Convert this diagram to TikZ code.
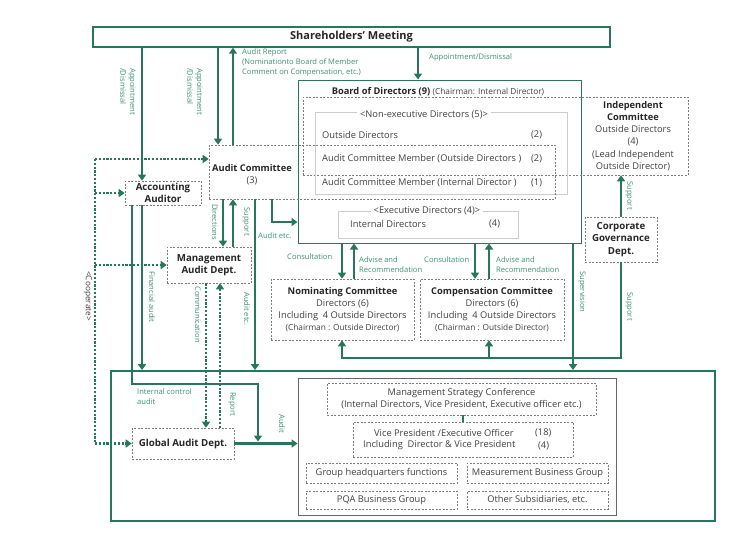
\documentclass[tikz,border=0pt]{standalone}
\usepackage{fontspec}
\setmainfont{Open Sans}
\usetikzlibrary{arrows.meta}
\definecolor{mgreen}{RGB}{40,118,92}
\definecolor{lgreen}{RGB}{62,146,116}
\definecolor{dtext}{RGB}{64,64,64}
\definecolor{dgray}{RGB}{125,125,125}
\begin{document}
\begin{tikzpicture}[x=1pt,y=-1pt,
    every node/.style={font=\fontsize{9.3}{12}\selectfont, text=dtext, inner sep=0pt},
    dbox/.style={draw=dgray, dash pattern=on 2pt off 1.5pt, line width=0.6pt},
    gbox/.style={draw=gray!40, line width=0.7pt},
    ln/.style={draw=mgreen, line width=2.3pt},
    arr/.style={ln, -{Triangle[length=6pt,width=8pt]}},
    dotarr/.style={arr, dash pattern=on 2.2pt off 1.6pt},
    dotln/.style={ln, dash pattern=on 2.2pt off 1.6pt},
    lbl/.style={font=\fontsize{7.6}{9.8}\selectfont, text=lgreen, align=left},
    vlbl/.style={lbl, rotate=-90, anchor=north west},
    hd/.style={font=\fontsize{9.7}{12.5}\selectfont\bfseries, text=black!85, align=center}]
    \fill[white] (0,0) rectangle (730,547);
    \useasboundingbox (0,0) rectangle (730,547);
    \coordinate (xCoop) at (95,0);
    \coordinate (xIC) at (132,0);
    \coordinate (xAA) at (142,0);
    \coordinate (xCom) at (206,0);
    \coordinate (xACd) at (218,0);
    \coordinate (xRep) at (220,0);
    \coordinate (xDir) at (223,0);
    \coordinate (xACu) at (233,0);
    \coordinate (xAEa) at (255,0);
    \coordinate (xDrop) at (258,0);
    \coordinate (xAEb) at (272,0);
    \coordinate (xNa) at (342,0);
    \coordinate (xNb) at (354,0);
    \coordinate (xBoD) at (418,0);
    \coordinate (xCa) at (475,0);
    \coordinate (xCb) at (489,0);
    \coordinate (xSpv) at (573,0);
    \coordinate (yCoop) at (0,159);
    \coordinate (yAE) at (0,222);
    \coordinate (ySup) at (0,358);
    \coordinate (yIC) at (0,384);
    \node[draw=mgreen, line width=1.4pt, minimum width=517, minimum height=20] (sm) at (351.5,37) {\fontsize{11}{13}\selectfont\bfseries\color{black!85}Shareholders’ Meeting};
    \node[draw=mgreen, line width=1pt, minimum width=283, minimum height=163] (bod) at (439.5,161.5) {};
    \node (bodttl) at (438,92) {\textbf{\color{black!85}Board of Directors (9)} {\fontsize{8.3}{10}\selectfont (Chairman: Internal Director)}};
    \node[dbox, minimum width=385, minimum height=78] (indep) at (495.5,136) {};
    \node[align=center, font=\fontsize{9.3}{12.2}\selectfont] (indeptxt) at (633,136) {{\bfseries\color{black!85}Independent}\\{\bfseries\color{black!85}Committee}\\Outside Directors\\(4)\\(Lead Independent\\Outside Director)};
    \node[gbox, minimum width=252, minimum height=82] (nonexec) at (441,153) {};
    \node[fill=white, inner xsep=3pt, inner ysep=1pt] (nonexecttl) at (424,115) {<Non-executive Directors (5)>};
    \node[dbox, minimum width=346, minimum height=54] (ac) at (382,172) {};
    \node[anchor=west] (od) at (322,135) {Outside Directors};
    \node[anchor=west] (odn) at (531,135) {(2)};
    \node[anchor=west] (acmo) at (322,159) {Audit Committee Member (Outside Directors )};
    \node[anchor=west] (acmon) at (531,159) {(2)};
    \node[anchor=west] (acmi) at (322,183) {Audit Committee Member (Internal Director )};
    \node[anchor=west] (acmin) at (531,183) {(1)};
    \node[align=center] (actxt) at (252,175) {{\bfseries\color{black!85}Audit Committee}\\(3)};
    \node[gbox, minimum width=180, minimum height=27] (exec) at (428,224.5) {};
    \node[fill=white, inner xsep=3pt, inner ysep=1pt] (execttl) at (427,211) {<Executive Directors (4)>};
    \node[anchor=west] (intd) at (350,224) {Internal Directors};
    \node[anchor=west] (intdn) at (489,224) {(4)};
    \node[dbox, minimum width=143, minimum height=61, align=center] (nom) at (342.5,309.5) {{\bfseries\color{black!85}Nominating Committee}\\Directors (6)\\Including \ 4 Outside Directors\\{\fontsize{8.3}{10}\selectfont(Chairman : Outside Director)}};
    \node[dbox, minimum width=144, minimum height=61, align=center] (comp) at (492,309.5) {{\bfseries\color{black!85}Compensation Committee}\\Directors (6)\\Including \ 4 Outside Directors\\{\fontsize{8.3}{10}\selectfont(Chairman : Outside Director)}};
    \node[dbox, minimum width=72, minimum height=45, hd] (cgd) at (621,239.5) {Corporate\\Governance\\Dept.};
    \node[dbox, minimum width=76, minimum height=24, hd] (aa) at (163,193) {Accounting\\Auditor};
    \node[dbox, minimum width=84, minimum height=36, hd] (mad) at (209,265) {Management\\Audit Dept.};
    \node[dbox, minimum width=102, minimum height=31, hd] (gad) at (183,443.5) {Global Audit Dept.};
    \node[draw=mgreen, line width=1.8pt, minimum width=604, minimum height=150] (big) at (413,446) {};
    \node[draw=gray!80!black, line width=0.8pt, minimum width=318, minimum height=137] (mgmt) at (457,446.5) {};
    \node[dbox, minimum width=269, minimum height=32, align=center] (msc) at (461.5,399) {Management Strategy Conference\\(Internal Directors, Vice President, Executive officer etc.)};
    \node[dbox, minimum width=220, minimum height=35] (vp) at (463,439.5) {};
    \node[anchor=west] (vpa) at (374,433) {Vice President /Executive Officer};
    \node[anchor=west] (vpan) at (535,433) {(18)};
    \node[anchor=west] (vpb) at (363,445.5) {Including \ Director \& Vice President};
    \node[anchor=west] (vpbn) at (538,445.5) {(4)};
    \node[dbox, minimum width=151, minimum height=20] (ghq) at (381.5,473) {Group headquarters functions};
    \node[dbox, minimum width=141, minimum height=20] (mbg) at (537.5,473) {Measurement Business Group};
    \node[dbox, minimum width=151, minimum height=18] (pqa) at (381.5,500) {PQA Business Group};
    \node[dbox, minimum width=141, minimum height=18] (oth) at (537.5,500) {Other Subsidiaries, etc.};
    \draw[arr] (xAA |- sm.south) -- (xAA |- aa.north);
    \draw[arr] (xACd |- sm.south) -- (xACd |- ac.north);
    \draw[arr] (xACu |- ac.north) -- (xACu |- sm.south);
    \draw[arr] (xBoD |- sm.south) -- (xBoD |- bod.north);
    \draw[arr] (xDir |- ac.south) -- (xDir |- mad.north);
    \draw[arr] (xACu |- mad.north) -- (xACu |- ac.south);
    \draw[arr] (xAEb |- ac.south) |- (yAE -| bod.west);
    \draw[arr] (xAEa |- ac.south) -- (xAEa |- big.north);
    \draw[arr] (xAA |- aa.south) -- (xAA |- big.north);
    \draw[arr, shorten >=2pt] (xIC |- aa.south) |- (xDrop |- yIC) -- (xDrop |- gad.east);
    \draw[arr] (gad.east) -- (gad.east -| mgmt.west);
    \draw[dotarr] (xCom |- mad.south) -- (xCom |- gad.north);
    \draw[dotarr] (xRep |- gad.north) -- (xRep |- mad.south);
    \draw[dotln] (xCoop |- yCoop) -- (xCoop |- gad.west);
    \draw[dotarr] (xCoop |- yCoop) -- (yCoop -| ac.west);
    \draw[dotarr] (xCoop |- aa.west) -- (aa.west);
    \draw[dotarr] (xCoop |- mad.west) -- (mad.west);
    \draw[dotarr] (xCoop |- gad.west) -- (gad.west);
    \draw[arr] (xNa |- bod.south) -- (xNa |- nom.north);
    \draw[arr] (xNb |- nom.north) -- (xNb |- bod.south);
    \draw[arr] (xCa |- bod.south) -- (xCa |- comp.north);
    \draw[arr] (xCb |- comp.north) -- (xCb |- bod.south);
    \draw[arr] (xSpv |- bod.south) -- (xSpv |- big.north);
    \draw[arr] (cgd.north) -- (cgd.north |- indep.south);
    \draw[arr] (cgd.south) |- (ySup -| xNa) -- (xNa |- nom.south);
    \draw[arr] (xCb |- ySup) -- (xCb |- comp.south);
    \draw[ln, line width=1.8pt] (vp.north) -- (vp.north |- msc.south);
    \node[vlbl] (l1) at (136,68) {Appointment\\/Dismissal};
    \node[vlbl] (l2) at (203,68) {Appointment\\/Dismissal};
    \node[lbl, anchor=north west] (l3) at (242,49) {Audit Report\\(Nominationto Board of Member\\Comment on Compensation, etc.)};
    \node[lbl, anchor=west] (l4) at (429,58) {Appointment/Dismissal};
    \node[vlbl] (l5) at (218,204) {Directions};
    \node[vlbl] (l6) at (250,207) {Support};
    \node[lbl, anchor=west] (l7) at (258,236) {Audit etc.};
    \node[vlbl] (l8) at (250,292) {Audit etc.};
    \node[vlbl] (l9) at (155,271) {Financial audit};
    \node[vlbl] (l10) at (201,286) {Communication};
    \node[vlbl] (l11) at (236,392) {Report};
    \node[lbl, anchor=north west] (l12) at (137,389) {Internal control\\audit};
    \node[vlbl] (l13) at (285,414) {Audit};
    \node[vlbl, text=dtext, font=\fontsize{8.3}{10}\selectfont] (l14) at (92,271) {<Cooperate>};
    \node[lbl, anchor=west] (l15) at (287,257) {Consultation};
    \node[lbl, anchor=north west] (l16) at (359,257) {Advise and\\Recommendation};
    \node[lbl, anchor=west] (l17) at (424,260) {Consultation};
    \node[lbl, anchor=north west] (l18) at (496,257) {Advise and\\Recommendation};
    \node[vlbl] (l19) at (586,271) {Supervision};
    \node[vlbl] (l20) at (633,181) {Support};
    \node[vlbl] (l21) at (633,292) {Support};
\end{tikzpicture}
\end{document}
